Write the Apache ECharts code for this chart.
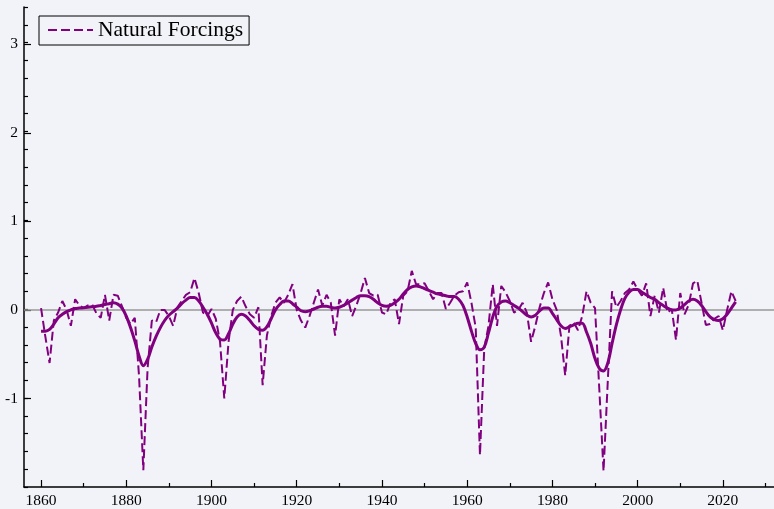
<!DOCTYPE html>
<html>
<head>
<meta charset="utf-8">
<script src="https://cdn.jsdelivr.net/npm/echarts@6/dist/echarts.min.js"></script>
<style>
  html, body { margin: 0; padding: 0; background: #f2f3f8; }
  #chart { width: 774px; height: 509px; }
</style>
</head>
<body>
<div id="chart"></div>
<script>
// Annual natural radiative forcing (W/m²), 1860–2023
const startYear = 1860;

const naturalAnnual = [
  0.02, -0.30, -0.60, -0.12, -0.03, 0.10, 0.00, -0.18, 0.12, 0.05,      // 1860s
  0.02, 0.05, 0.06, -0.04, -0.09, 0.17, -0.12, 0.17, 0.16, 0.04,        // 1870s
  -0.09, -0.16, -0.09, -0.75, -1.81, -0.66, -0.12, -0.14, 0.00, 0.00,   // 1880s
  -0.07, -0.18, 0.03, 0.10, 0.17, 0.20, 0.36, 0.19, -0.03, -0.07,       // 1890s
  0.01, -0.10, -0.36, -1.00, -0.36, 0.00, 0.10, 0.15, 0.04, -0.05,      // 1900s
  -0.09, 0.03, -0.85, -0.29, -0.07, 0.08, 0.14, 0.08, 0.17, 0.29,       // 1910s
  0.00, -0.12, -0.20, -0.07, 0.08, 0.23, 0.05, 0.17, 0.08, -0.29,       // 1920s
  0.12, 0.04, 0.12, -0.07, 0.05, 0.19, 0.36, 0.19, 0.16, 0.17,          // 1930s
  -0.03, -0.05, 0.08, 0.12, -0.16, 0.16, 0.21, 0.44, 0.29, 0.29,        // 1940s
  0.30, 0.21, 0.12, 0.19, 0.19, 0.01, 0.08, 0.16, 0.20, 0.21,           // 1950s
  0.31, 0.08, -0.20, -1.64, -0.44, -0.18, 0.29, -0.18, 0.27, 0.20,      // 1960s
  0.10, -0.03, 0.00, 0.08, -0.03, -0.36, -0.18, 0.03, 0.19, 0.31,       // 1970s
  0.12, 0.00, -0.29, -0.74, -0.18, -0.14, -0.23, -0.07, 0.21, 0.08,     // 1980s
  0.02, -0.89, -1.82, -0.80, 0.21, 0.03, 0.10, 0.19, 0.23, 0.32,        // 1990s
  0.23, 0.16, 0.30, -0.07, 0.16, -0.03, 0.25, -0.03, 0.01, -0.34,       // 2000s
  0.19, -0.05, 0.06, 0.30, 0.33, 0.08, -0.17, -0.16, -0.10, -0.07,      // 2010s
  -0.23, 0.00, 0.21, 0.10                                               // 2020s
];

// Low-pass filtered version of the same forcing
const naturalSmoothed = [
  -0.24, -0.24, -0.22, -0.16, -0.09, -0.05, -0.02, 0.00, 0.015, 0.02,
  0.025, 0.03, 0.035, 0.04, 0.05, 0.06, 0.07, 0.08, 0.065, 0.02,
  -0.07, -0.20, -0.35, -0.52, -0.63, -0.56, -0.42, -0.30, -0.20, -0.12,
  -0.06, -0.02, 0.02, 0.07, 0.11, 0.14, 0.14, 0.10, 0.03, -0.05,
  -0.15, -0.26, -0.33, -0.34, -0.27, -0.16, -0.08, -0.05, -0.07, -0.12,
  -0.18, -0.22, -0.23, -0.19, -0.10, 0.00, 0.06, 0.10, 0.10, 0.07,
  0.03, -0.01, -0.02, -0.01, 0.01, 0.03, 0.04, 0.04, 0.03, 0.02,
  0.03, 0.05, 0.08, 0.11, 0.14, 0.16, 0.16, 0.15, 0.12, 0.08,
  0.05, 0.04, 0.05, 0.08, 0.12, 0.18, 0.23, 0.26, 0.27, 0.26,
  0.24, 0.22, 0.20, 0.18, 0.17, 0.16, 0.15, 0.15, 0.12, 0.05,
  -0.08, -0.24, -0.38, -0.45, -0.42, -0.26, -0.08, 0.04, 0.09, 0.10,
  0.08, 0.05, 0.02, -0.02, -0.06, -0.08, -0.06, -0.01, 0.02, 0.02,
  -0.04, -0.11, -0.18, -0.21, -0.19, -0.17, -0.15, -0.15, -0.25, -0.38,
  -0.55, -0.66, -0.69, -0.60, -0.38, -0.17, 0.00, 0.13, 0.20, 0.23,
  0.23, 0.20, 0.17, 0.14, 0.12, 0.08, 0.05, 0.02, 0.00, 0.00,
  0.02, 0.06, 0.10, 0.12, 0.10, 0.05, -0.02, -0.08, -0.11, -0.12,
  -0.10, -0.05, 0.02, 0.09
];

const xLabelYears = [1860, 1880, 1900, 1920, 1940, 1960, 1980, 2000, 2020];
const xMinorYears = [1870, 1890, 1910, 1930, 1950, 1970, 1990, 2010, 2030];
const yLabelValues = [-1, 0, 1, 2, 3];

const years = naturalAnnual.map((_, i) => startYear + i);
const annualPairs = years.map((y, i) => [y, naturalAnnual[i]]);
const smoothPairs = years.map((y, i) => [y, naturalSmoothed[i]]);

const purple = '#800080';
const serif = '"Liberation Serif", "Times New Roman", serif';

const chart = echarts.init(document.getElementById('chart'), null, { renderer: 'canvas' });

const xBase = { type: 'value', min: 1856, max: 2032, gridIndex: 0, splitLine: { show: false } };
const yBase = { type: 'value', min: -2, max: 3.42, gridIndex: 0, splitLine: { show: false } };

chart.setOption({
  backgroundColor: '#f2f3f8',
  animation: false,
  grid: { left: 24, right: 0, top: 7, bottom: 17, containLabel: false },
  legend: {
    data: ['Natural Forcings'],
    left: 39,
    top: 16,
    padding: [3, 6, 4, 8],
    borderColor: '#000',
    borderWidth: 1,
    borderRadius: 0,
    itemWidth: 45,
    itemHeight: 14,
    itemStyle: { opacity: 0 },
    textStyle: { fontFamily: serif, fontSize: 21.5, color: '#000' }
  },
  xAxis: [
    Object.assign({}, xBase, {
      position: 'bottom',
      axisLine: { show: true, onZero: false, lineStyle: { color: '#000', width: 1.5 } },
      axisTick: { show: true, inside: true, length: 7, customValues: xLabelYears, lineStyle: { color: '#000', width: 1.2 } },
      axisLabel: {
        show: true, customValues: xLabelYears, margin: 6, fontFamily: serif, fontSize: 15.5, color: '#000',
        formatter: v => String(v)
      }
    }),
    Object.assign({}, xBase, {
      position: 'bottom',
      axisLine: { show: false, onZero: false },
      axisTick: { show: true, inside: true, length: 4, customValues: xMinorYears, lineStyle: { color: '#000', width: 1.2 } },
      axisLabel: { show: false }
    })
  ],
  yAxis: [
    Object.assign({}, yBase, {
      min: -2,
      max: 3.4,
      interval: 0.2,
      position: 'left',
      axisLine: { show: false, onZero: false },
      axisTick: { show: true, inside: true, length: 4, lineStyle: { color: '#000', width: 1.2 } },
      axisLabel: { show: false }
    }),
    Object.assign({}, yBase, {
      position: 'left',
      axisLine: { show: true, onZero: false, lineStyle: { color: '#000', width: 1.5 } },
      axisTick: { show: true, inside: true, length: 7, customValues: yLabelValues, lineStyle: { color: '#000', width: 1.2 } },
      axisLabel: {
        show: true, customValues: yLabelValues, margin: 6, fontFamily: serif, fontSize: 15.5, color: '#000',
        formatter: v => String(v)
      }
    })
  ],
  series: [
    {
      name: 'Natural Forcings',
      type: 'line',
      yAxisIndex: 1,
      data: annualPairs,
      symbol: 'none',
      lineStyle: { color: purple, width: 2, type: [9, 4] },
      itemStyle: { color: purple },
      z: 3,
      markLine: {
        silent: true,
        symbol: 'none',
        label: { show: false },
        lineStyle: { color: '#999', width: 1.5, type: 'solid' },
        data: [{ yAxis: 0 }],
        z: 1
      }
    },
    {
      name: 'Smoothed',
      type: 'line',
      yAxisIndex: 1,
      data: smoothPairs,
      symbol: 'none',
      smooth: 0.35,
      lineStyle: { color: purple, width: 3 },
      itemStyle: { color: purple },
      z: 4
    }
  ]
});
</script>
</body>
</html>
